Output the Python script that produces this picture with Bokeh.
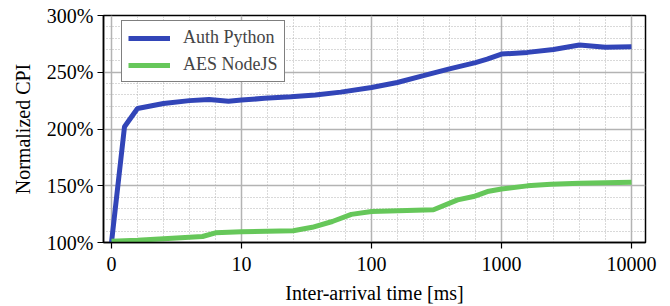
import numpy as np
from bokeh.plotting import figure
from bokeh.models import (FixedTicker, PrintfTickFormatter, Legend, LegendItem, Range1d, Grid,
                          LinearAxis)
from bokeh.embed import file_html
from bokeh.resources import INLINE

# ---- data ----
x_tick_values = [0, 10, 100, 1000, 10000]
x_tick_labels = ["0", "10", "100", "1000", "10000"]
y_tick_values = [100, 150, 200, 250, 300]

auth_x = [0, 1, 2, 4, 6, 7.5, 9, 10, 15, 24, 37, 58, 100, 158, 251, 398, 631, 776,
          1000, 1585, 2512, 3981, 6310, 10000]
auth_y = [100, 202, 218, 222.5, 225, 226, 224.5, 225.5, 227, 228.5, 230, 232.5, 236.5,
          241, 247, 253, 258.5, 261.5, 266, 267.5, 270, 274, 272, 272.5]

aes_x = [0, 2, 5, 7, 8, 10, 25, 35, 50, 70, 100, 300, 460, 610, 780, 1000, 1580, 2400,
         4000, 10000]
aes_y = [101, 102, 104, 105.3, 108.5, 109.5, 110.3, 113.4, 118.5, 124.8, 127.3, 128.8,
         137.6, 140.5, 144.9, 147.2, 149.9, 151.4, 152.2, 153.1]


def symlog(x):
    """linear below 10, log10 above (one decade wide linear part)"""
    x = np.asarray(x, dtype=float)
    return np.where(x < 10, x / 10.0, np.log10(np.maximum(x, 10.0)))


FONT = "'Liberation Serif'"
X0, X1 = -0.0615, 4.108
Y0, Y1 = 100, 300

p = figure(width=670, height=306,
           x_range=Range1d(X0, X1), y_range=Range1d(Y0, Y1),
           output_backend="svg", toolbar_location=None,
           min_border_left=103, min_border_right=25, min_border_top=15, min_border_bottom=63)

xt = [float(v) for v in symlog(x_tick_values)]
x_minor = [round(i * 0.2, 4) for i in range(0, 21) if i % 5 != 0]
y_minor = [v for v in range(100, 301, 10) if v % 50 != 0]
p.xaxis.ticker = FixedTicker(ticks=xt, minor_ticks=[])
p.xaxis.major_label_overrides = {v: l for v, l in zip(xt, x_tick_labels)}
p.yaxis.ticker = FixedTicker(ticks=y_tick_values, minor_ticks=[])
p.yaxis.formatter = PrintfTickFormatter(format="%d%%")

for ax in (p.xaxis, p.yaxis):
    ax.major_label_text_font = FONT
    ax.major_label_text_font_size = "20px"
    ax.major_label_text_color = "black"
    ax.axis_label_text_font = FONT
    ax.axis_label_text_font_size = "20px"
    ax.axis_label_text_font_style = "normal"
    ax.axis_label_text_color = "black"
    ax.axis_line_color = "black"
    ax.axis_line_width = 1.5
    ax.major_tick_line_color = "black"
    ax.major_tick_line_width = 1.2
    ax.major_tick_in = 0
    ax.major_tick_out = 6
    ax.minor_tick_line_color = None

p.xaxis.major_label_standoff = 8
p.yaxis.major_label_standoff = 4
p.xaxis.axis_label = "Inter-arrival time [ms]"
p.yaxis.axis_label = "Normalized CPI"
p.xaxis.axis_label_standoff = 8
p.yaxis.axis_label_standoff = 10

for g in (p.xgrid, p.ygrid):
    g.grid_line_color = "#b3b3b3"
    g.grid_line_width = 1.5

# dotted minor grid
p.add_layout(Grid(dimension=0, ticker=FixedTicker(ticks=x_minor), grid_line_color="#b3b3b3",
                  grid_line_width=1, grid_line_dash="1 2"))
p.add_layout(Grid(dimension=1, ticker=FixedTicker(ticks=y_minor), grid_line_color="#b3b3b3",
                  grid_line_width=1, grid_line_dash="1 2"))

# minor tick marks drawn on the frame edges (no labels)
def minor_axis(ticks, loc):
    return LinearAxis(ticker=FixedTicker(ticks=ticks, minor_ticks=[]), fixed_location=loc,
                      axis_line_color=None, major_label_overrides={t: "" for t in ticks},
                      major_label_text_font_size="10px",
                      major_label_standoff=0, major_tick_in=0, major_tick_out=4,
                      major_tick_line_color="black", major_tick_line_width=1,
                      minor_tick_line_color=None)

p.add_layout(minor_axis(x_minor, Y0), "below")
p.add_layout(minor_axis(y_minor, X0), "left")

p.outline_line_color = "black"
p.outline_line_width = 1.5
p.background_fill_color = "white"
p.border_fill_color = "white"

r1 = p.line(symlog(auth_x), auth_y, line_color="#3245b8", line_width=5)
r2 = p.line(symlog(aes_x), aes_y, line_color="#66c75a", line_width=5)

legend = Legend(items=[LegendItem(label="Auth Python", renderers=[r1]),
                       LegendItem(label="AES NodeJS", renderers=[r2])],
                location=(18, 160), margin=0, padding=6, spacing=6,
                glyph_width=42, glyph_height=20, label_height=20, label_standoff=13,
                label_text_font=FONT, label_text_font_size="18px",
                border_line_color="black", border_line_width=1.5,
                background_fill_color="white", background_fill_alpha=1.0)
p.add_layout(legend)

open("out.html", "w").write(file_html(p, INLINE))
